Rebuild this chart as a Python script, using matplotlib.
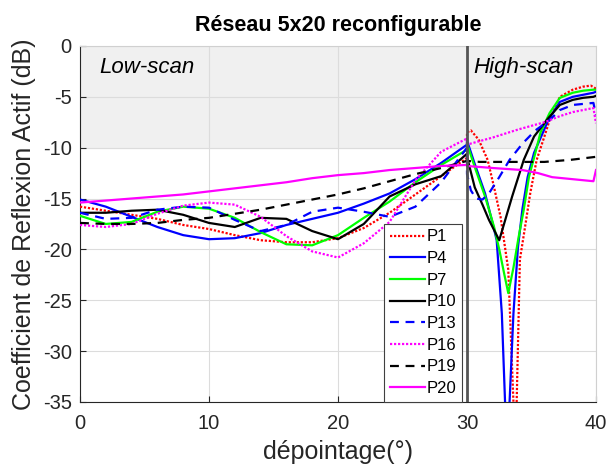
import matplotlib
matplotlib.use('Agg')
import matplotlib.pyplot as plt

plt.rcParams['font.family'] = ['Liberation Sans', 'DejaVu Sans']
plt.rcParams['axes.unicode_minus'] = False

# low-scan part, common abscissa
x_low = [0, 2, 4, 6, 8, 10, 12, 14, 16, 18, 20, 22, 24, 26, 28, 30]
p1_low = [-15.8, -16.2, -16.6, -17.0, -17.6, -18.0, -18.6, -19.1, -19.3, -19.3, -18.9, -17.9, -16.4, -14.6, -12.8, -11.0]
p4_low = [-15.1, -15.8, -16.8, -17.8, -18.6, -19.0, -18.9, -18.4, -17.6, -17.0, -16.4, -15.5, -14.5, -13.1, -11.5, -9.7]
p7_low = [-16.7, -17.5, -17.3, -16.3, -15.8, -16.0, -16.9, -18.3, -19.5, -19.6, -18.6, -16.9, -15.3, -13.4, -11.7, -10.2]
p10_low = [-16.4, -16.4, -16.2, -16.1, -16.6, -17.4, -17.8, -16.9, -17.0, -18.2, -19.0, -17.5, -14.8, -13.6, -12.8, -10.6]
p13_low = [-16.4, -17.0, -16.9, -16.1, -15.8, -15.9, -17.1, -18.2, -17.6, -16.3, -15.9, -16.3, -16.8, -15.8, -13.4, -10.0]
p16_low = [-17.6, -17.8, -17.5, -16.5, -15.7, -15.4, -15.6, -16.8, -18.7, -20.2, -20.8, -19.4, -17.3, -13.2, -10.4, -9.1]
p19_low = [-17.4, -17.5, -17.5, -17.4, -17.1, -16.9, -16.5, -16.1, -15.6, -15.1, -14.6, -14.0, -13.3, -12.6, -12.0, -11.3]
p20_low = [-15.4, -15.2, -15.0, -14.8, -14.6, -14.3, -14.0, -13.7, -13.4, -13.0, -12.7, -12.5, -12.2, -12.0, -11.8, -11.7]

# high-scan part, each series read at its own points
p1_hx = [30, 30.3, 30.9, 31.6, 32.1, 32.6, 32.9, 33.2, 33.6, 33.75, 33.85, 34.1, 34.5, 34.9, 35.4, 36.0, 36.4, 37.2, 38.2, 39.0, 39.6, 40.0]
p1_hy = [-8.5, -8.3, -9.2, -11.2, -13.9, -16.8, -19.4, -22.0, -35.0, -40.0, -35.0, -21.0, -17.8, -14.5, -11.2, -8.9, -7.3, -5.0, -4.3, -4.0, -3.9, -4.2]
p4_hx = [30, 30.6, 31.4, 32.0, 32.3, 32.7, 32.95, 33.1, 33.3, 33.6, 33.95, 34.3, 34.7, 35.2, 36.3, 37.2, 38.2, 39.0, 39.8, 40.0]
p4_hy = [-9.3, -11.6, -14.5, -17.5, -19.1, -26.3, -35.0, -42.0, -35.0, -26.3, -19.8, -16.0, -12.9, -10.5, -7.3, -5.5, -5.0, -4.8, -4.6, -4.5]
p7_hx = [30, 30.6, 31.4, 32.1, 32.5, 32.9, 33.2, 33.6, 34.0, 34.4, 34.8, 35.3, 35.7, 36.4, 37.2, 38.2, 39.0, 39.8, 40.0]
p7_hy = [-9.6, -11.9, -14.8, -17.8, -20.0, -22.5, -24.3, -21.8, -18.8, -16.1, -12.9, -10.5, -8.5, -6.6, -5.1, -4.6, -4.4, -4.3, -4.3]
p10_hx = [30, 30.6, 31.2, 31.7, 32.5, 33.5, 34.4, 35.2, 36.3, 37.2, 38.2, 39.0, 39.8, 40.0]
p10_hy = [-10.9, -13.9, -15.6, -17.1, -19.1, -14.8, -11.2, -8.9, -7.1, -5.8, -5.3, -5.1, -5.0, -4.9]
p13_hx = [30, 30.3, 30.7, 31.2, 31.7, 32.5, 33.3, 34.3, 35.3, 36.4, 37.2, 38.2, 39.0, 39.8, 40.0]
p13_hy = [-12.6, -14.2, -15.0, -15.1, -14.5, -12.9, -11.2, -9.6, -8.3, -7.3, -6.3, -5.8, -5.7, -5.6, -6.8]
p16_hx = [30, 32, 34, 36, 37.2, 38.2, 39.0, 39.8, 40.0]
p16_hy = [-9.7, -9.0, -8.2, -7.5, -6.9, -6.5, -6.3, -6.1, -7.6]
p19_hx = [30, 31, 32, 34, 36, 38, 40]
p19_hy = [-11.3, -11.4, -11.4, -11.4, -11.4, -11.2, -10.9]
p20_hx = [30, 32, 34.3, 35.5, 36.6, 38.2, 39.8, 40.0]
p20_hy = [-11.8, -12.0, -12.2, -12.5, -12.9, -13.1, -13.3, -12.2]

labels = ['P1', 'P4', 'P7', 'P10', 'P13', 'P16', 'P19', 'P20']
colors = ['#ff0000', '#0000ff', '#00ff00', '#000000', '#0000ff', '#ff00ff', '#000000', '#ff00ff']
styles = [(0, (1, 0.8)), '-', '-', '-', (0, (4, 3)), (0, (1, 0.8)), (0, (4, 3)), '-']

low = [p1_low, p4_low, p7_low, p10_low, p13_low, p16_low, p19_low, p20_low]
high = [(p1_hx, p1_hy), (p4_hx, p4_hy), (p7_hx, p7_hy), (p10_hx, p10_hy),
        (p13_hx, p13_hy), (p16_hx, p16_hy), (p19_hx, p19_hy), (p20_hx, p20_hy)]

fig = plt.figure(figsize=(6.06, 4.69), dpi=100)
ax = fig.add_axes([0.132, 0.143, 0.8515, 0.759])

ax.axhspan(-10, 0, color='#f0f0f0', zorder=0)
ax.grid(True, color='#dcdcdc', linewidth=0.8, zorder=1)
ax.set_axisbelow(True)

for lab, col, ls, yl, (hx, hy) in zip(labels, colors, styles, low, high):
    ax.plot(x_low + hx, yl + hy, color=col, linestyle=ls, linewidth=1.6,
            label=lab, zorder=3)

ax.axvline(30, color='#555555', linewidth=2, zorder=5)

ax.text(1.5, -2.1, 'Low-scan', fontsize=16, style='italic', va='center', zorder=6)
ax.text(30.5, -2.1, 'High-scan', fontsize=16, style='italic', va='center', zorder=6)

ax.set_xlim(0, 40)
ax.set_ylim(-35, 0)
ax.set_xticks([0, 10, 20, 30, 40])
ax.set_yticks(range(-35, 1, 5))
ax.tick_params(direction='in', labelsize=14.5, colors='#262626', length=4)
ax.tick_params(axis='x', pad=9)
ax.tick_params(axis='y', pad=6)
for s in ['top', 'right']:
    ax.spines[s].set_color('#d0d0d0')
for s in ['left', 'bottom']:
    ax.spines[s].set_color('#262626')

ax.set_title('Réseau 5x20 reconfigurable', fontsize=15.5, fontweight='bold', pad=11)
ax.set_xlabel('dépointage(°)', fontsize=18, color='#262626', labelpad=5)
ax.set_ylabel('Coefficient de Reflexion Actif (dB)', fontsize=18, color='#262626', labelpad=5)

leg = ax.legend(loc='lower right', bbox_to_anchor=(0.74, 0.0), borderaxespad=0,
                fontsize=12, handlelength=2.1, handletextpad=0.1,
                labelspacing=0.4, borderpad=0.35, fancybox=False, framealpha=1)
leg.get_frame().set_edgecolor('#404040')
leg.get_frame().set_linewidth(0.8)
leg.set_zorder(10)

fig.savefig('out.png', dpi=100)
